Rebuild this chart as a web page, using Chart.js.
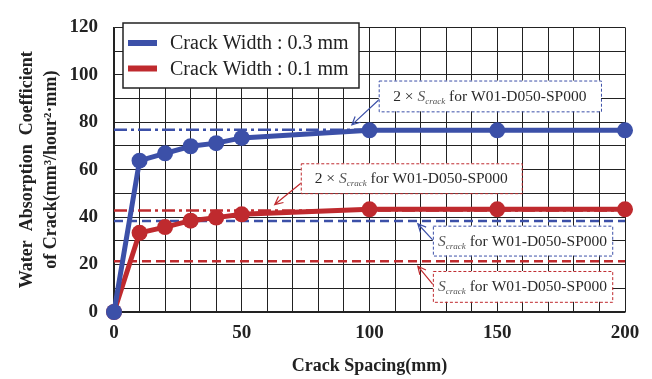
<!DOCTYPE html>
<html>
<head>
<meta charset="utf-8">
<script src="https://cdn.jsdelivr.net/npm/chart.js@4"></script>
<style>
  html, body { margin: 0; padding: 0; background: #fff; }
  canvas { display: block; }
</style>
</head>
<body>
<canvas id="chart" width="652" height="379"></canvas>
<script>
// ---- data ----
const spacing = [0, 10, 20, 30, 40, 50, 100, 150, 200];
const width03 = [0, 63.8, 66.9, 69.9, 71.2, 73.4, 76.6, 76.6, 76.6];
const width01 = [0, 33.4, 35.8, 38.5, 39.8, 41.2, 43.3, 43.3, 43.3];
const seriesLabels = ['Crack Width : 0.3 mm', 'Crack Width : 0.1 mm'];

// S_crack of W01-D050-SP000 for each width, and twice that
const sCrack03 = 38.4;
const sCrack01 = 21.4;
const twoSCrack03 = 76.8;
const twoSCrack01 = 42.8;

const xLabelTicks = [0, 50, 100, 150, 200];
const yLabelTicks = [0, 20, 40, 60, 80, 100, 120];

const BLUE = '#3c50a8';
const RED = '#bf2a2e';
const SERIF = '"Liberation Serif", "Times New Roman", serif';

const pts = ys => spacing.map((x, i) => ({ x, y: ys[i] }));
const hline = v => [{ x: 0, y: v }, { x: 200, y: v }];

function series(label, ys, color, order) {
  return {
    label, data: pts(ys), order, clip: false,
    borderColor: color, backgroundColor: color,
    borderWidth: 5, pointRadius: 8, pointHoverRadius: 8,
    pointBorderWidth: 0, pointBackgroundColor: color, tension: 0
  };
}
function refLine(v, color, dash) {
  return {
    label: '', data: hline(v), order: 5,
    borderColor: color, borderWidth: 2.5, borderDash: dash,
    pointRadius: 0, pointHoverRadius: 0, fill: false
  };
}

/* ---------- annotation boxes (data coords) ---------- */
const notes = [
  { color: BLUE, box: [103.6, 97.6, 190.6, 84.6], twice: true, tail: [104.0, 89.8], head: [93.1, 78.9] },
  { color: RED,  box: [73.1, 62.7, 159.6, 50.1],  twice: true, tail: [73.5, 54.6],  head: [62.9, 45.3] },
  { color: BLUE, box: [124.8, 36.4, 195.0, 23.8], twice: false, tail: [124.8, 30.3], head: [118.9, 37.2] },
  { color: RED,  box: [124.8, 17.3, 195.0, 4.3],  twice: false, tail: [124.8, 11.6], head: [118.9, 19.3] }
];

function drawRich(ctx, parts, cx, cy) {
  let w = 0;
  parts.forEach(p => { ctx.font = p.font; w += ctx.measureText(p.t).width; });
  let x = cx - w / 2;
  ctx.textBaseline = 'alphabetic';
  ctx.textAlign = 'left';
  parts.forEach(p => {
    ctx.font = p.font;
    ctx.fillStyle = p.c || '#2a2a2a';
    ctx.fillText(p.t, x, cy + (p.dy || 0));
    x += ctx.measureText(p.t).width;
  });
}

function arrow(ctx, x1, y1, x2, y2, color) {
  ctx.strokeStyle = color;
  ctx.lineWidth = 1.2;
  ctx.setLineDash([]);
  ctx.beginPath();
  ctx.moveTo(x1, y1); ctx.lineTo(x2, y2);
  const a = Math.atan2(y2 - y1, x2 - x1), L = 9, s = 0.45;
  ctx.moveTo(x2 - L * Math.cos(a - s), y2 - L * Math.sin(a - s));
  ctx.lineTo(x2, y2);
  ctx.lineTo(x2 - L * Math.cos(a + s), y2 - L * Math.sin(a + s));
  ctx.stroke();
}

const overlay = {
  id: 'overlay',
  afterDraw(chart) {
    const { ctx, scales: { x, y } } = chart;
    ctx.save();

    // legend box
    const lx = 123, ly = 23, lw = 236, lh = 65;
    ctx.fillStyle = '#fff';
    ctx.fillRect(lx, ly, lw, lh);
    ctx.strokeStyle = '#222';
    ctx.lineWidth = 1.5;
    ctx.strokeRect(lx, ly, lw, lh);
    chart.data.datasets.slice(0, 2).forEach((ds, i) => {
      const cy = 43 + i * 25.5;
      ctx.strokeStyle = ds.borderColor;
      ctx.lineWidth = 6;
      ctx.beginPath(); ctx.moveTo(128, cy); ctx.lineTo(157, cy); ctx.stroke();
      ctx.fillStyle = '#222';
      ctx.font = '20px ' + SERIF;
      ctx.textBaseline = 'middle';
      ctx.fillText(ds.label, 170, cy + 1);
    });

    // annotations
    notes.forEach(n => {
      const x1 = x.getPixelForValue(n.box[0]), y1 = y.getPixelForValue(n.box[1]);
      const x2 = x.getPixelForValue(n.box[2]), y2 = y.getPixelForValue(n.box[3]);
      arrow(ctx, x.getPixelForValue(n.tail[0]), y.getPixelForValue(n.tail[1]),
                 x.getPixelForValue(n.head[0]), y.getPixelForValue(n.head[1]), n.color);
      ctx.fillStyle = '#fff';
      ctx.fillRect(x1, y1, x2 - x1, y2 - y1);
      ctx.strokeStyle = n.color;
      ctx.lineWidth = 1;
      ctx.setLineDash([3, 2]);
      ctx.strokeRect(x1 + 0.5, y1 + 0.5, x2 - x1, y2 - y1);
      ctx.setLineDash([]);
      const parts = [];
      if (n.twice) parts.push({ t: '2 × ', font: '15.5px ' + SERIF });
      parts.push({ t: 'S', font: 'italic 15.5px ' + SERIF, c: '#555' });
      parts.push({ t: 'crack', font: 'italic 9px ' + SERIF, c: '#555', dy: 3 });
      parts.push({ t: ' for W01-D050-SP000', font: '15.5px ' + SERIF });
      drawRich(ctx, parts, (x1 + x2) / 2, (y1 + y2) / 2 + 5);
    });
    ctx.restore();
  }
};

new Chart(document.getElementById('chart'), {
  type: 'line',
  data: {
    datasets: [
      series(seriesLabels[0], width03, BLUE, 0),
      series(seriesLabels[1], width01, RED, 1),
      refLine(twoSCrack03, BLUE, [13, 4, 3, 4]),
      refLine(sCrack03, BLUE, [9, 5]),
      refLine(twoSCrack01, RED, [13, 4, 3, 4]),
      refLine(sCrack01, RED, [9, 5])
    ]
  },
  options: {
    responsive: false,
    animation: false,
    events: [],
    layout: { padding: { top: 16, right: 27, left: 0, bottom: 0 } },
    plugins: { legend: { display: false }, tooltip: { enabled: false } },
    scales: {
      x: {
        type: 'linear', min: 0, max: 200,
        afterFit: s => { s.height = 67; },
        grid: { color: '#222', lineWidth: 1, drawTicks: false },
        border: { color: '#222', width: 1.5 },
        ticks: {
          stepSize: 10, autoSkip: false, maxRotation: 0, padding: 10,
          color: '#222', font: { family: SERIF, size: 19, weight: 'bold' },
          callback: v => xLabelTicks.includes(v) ? String(v) : ''
        },
        title: {
          display: true, text: 'Crack Spacing(mm)', color: '#222',
          font: { family: SERIF, size: 18, weight: 'bold' },
          padding: { top: 0, bottom: 2 }
        }
      },
      y: {
        min: 0, max: 120,
        afterFit: s => { s.width = 114; },
        grid: { color: '#222', lineWidth: 1, drawTicks: false },
        border: { color: '#222', width: 1.5 },
        ticks: {
          stepSize: 10, autoSkip: false, padding: 16,
          color: '#222', font: { family: SERIF, size: 19, weight: 'bold' },
          callback: v => yLabelTicks.includes(v) ? String(v) : ''
        },
        title: {
          display: true,
          text: ['Water  Absorption  Coefficient', 'of Crack(mm³/hour²·mm)'],
          color: '#222',
          font: { family: SERIF, size: 18, weight: 'bold', lineHeight: 1.33 },
          padding: { top: 15, bottom: 0 }
        }
      }
    }
  },
  plugins: [overlay]
});
</script>
</body>
</html>
